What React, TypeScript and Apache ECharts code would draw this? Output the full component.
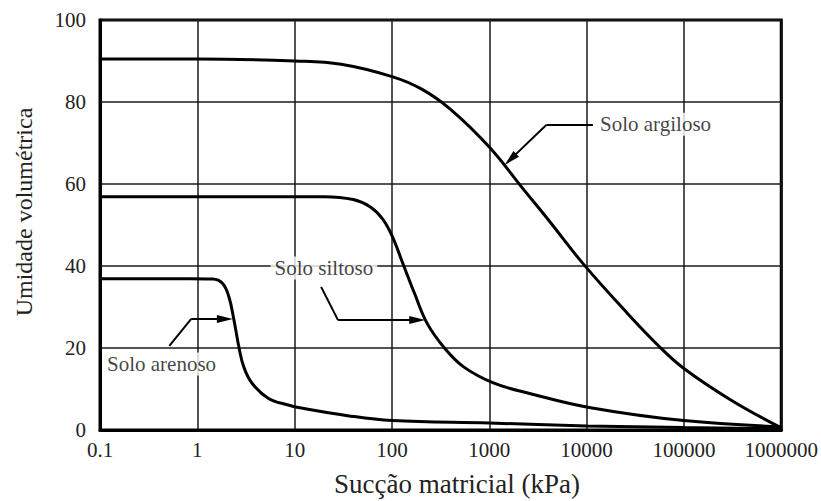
import React, { useEffect, useRef } from "react";
import * as echarts from "echarts";

// ---- Data ----
const clayX = [0.1, 1, 10, 30, 100, 200, 400, 1000, 2225, 4000, 9100, 25000, 55000, 100000, 300000, 1000000];
const clayY = [90.5, 90.5, 90.0, 89.2, 86.2, 83.2, 78.2, 69.0, 58.8, 51.4, 40.7, 29.0, 20.5, 15.0, 7.4, 0.5];

const siltX = [0.1, 1, 10, 20, 40, 60, 80, 100, 130, 170, 230, 341, 545, 1100, 2600, 10600, 100000, 1000000];
const siltY = [56.9, 56.9, 56.9, 56.9, 56.2, 54.4, 51.5, 47.4, 40.5, 33.4, 26.0, 20.2, 15.4, 11.5, 8.9, 5.5, 2.3, 0.8];

const sandX = [0.1, 0.826, 1.43, 1.81, 2.11, 2.38, 2.67, 3.0, 3.65, 5.4, 8.6, 10.9, 35, 100, 1000, 10000, 100000, 1000000];
const sandY = [36.9, 36.9, 36.8, 35.8, 32.5, 26.8, 20.3, 15.4, 11.4, 7.7, 6.1, 5.5, 3.5, 2.3, 1.7, 1.0, 0.6, 0.3];

const seriesNames = ["Solo argiloso", "Solo siltoso", "Solo arenoso"];

// annotation leader lines (data coordinates: [suction, moisture])
const clayLeader = [[11600, 74.4], [3850, 74.4], [1650, 66.0]];
const siltLeader = [[18.7, 34.9], [27.9, 26.8], [182, 26.8]];
const sandLeader = [[0.516, 20.5], [0.866, 27.1], [1.92, 27.1]];

// annotation label anchors (left edge, vertical middle)
const labelX = [12500, 5.66, 0.1073];
const labelY = [74.6, 39.5, 16.1];

const yTicks = { min: 0, max: 100, interval: 20 };
const xRange = { min: 0.1, max: 1000000 };

const xTitle = "Sucção matricial (kPa)";
const yTitle = "Umidade volumétrica";

const FONT = "Liberation Serif";

function pairs(xs: number[], ys: number[]) {
  return xs.map((x, i) => [x, ys[i]]);
}

function leaderMarkLine(pts: number[][]) {
  return {
    silent: true,
    symbol: ["none", "none"],
    label: { show: false },
    lineStyle: { color: "#000", width: 2, type: "solid" },
    emphasis: { disabled: true },
    data: [
      [
        { coord: pts[0], symbol: "none" },
        { coord: pts[1], symbol: "none" },
      ],
      [
        { coord: pts[1], symbol: "none" },
        { coord: pts[2], symbol: "triangle", symbolSize: [8, 16] },
      ],
    ],
  };
}

export default function App() {
  const ref = useRef<HTMLDivElement>(null);
  useEffect(() => {
    const chart = echarts.init(ref.current!, null, { renderer: "svg" });
    const curveStyle = {
      type: "line",
      showSymbol: false,
      symbol: "none",
      smooth: 0.4,
      lineStyle: { color: "#000", width: 3 },
      itemStyle: { color: "#000" },
      silent: true,
      z: 3,
    };
    const leaders = [clayLeader, siltLeader, sandLeader];
    const curves = [pairs(clayX, clayY), pairs(siltX, siltY), pairs(sandX, sandY)];
    const option: any = {
      animation: false,
      backgroundColor: "#fff",
      textStyle: { fontFamily: FONT },
      grid: {
        left: 100,
        right: 34,
        top: 20,
        bottom: 71,
        show: true,
        borderColor: "#000",
        borderWidth: 3,
        backgroundColor: "transparent",
      },
      xAxis: {
        type: "log",
        logBase: 10,
        min: xRange.min,
        max: xRange.max,
        axisLine: { show: true, lineStyle: { color: "#000", width: 3 } },
        axisTick: { show: false },
        splitLine: { show: true, lineStyle: { color: "#1a1a1a", width: 1.5 } },
        minorSplitLine: { show: false },
        axisLabel: {
          color: "#222",
          fontFamily: FONT,
          fontSize: 21,
          margin: 9,
          formatter: (v: number) => (v < 1 ? String(+v.toFixed(1)) : String(Math.round(v))),
        },
      },
      yAxis: {
        type: "value",
        min: yTicks.min,
        max: yTicks.max,
        interval: yTicks.interval,
        axisLine: { show: true, lineStyle: { color: "#000", width: 3 } },
        axisTick: { show: false },
        splitLine: { show: true, lineStyle: { color: "#1a1a1a", width: 1.5 } },
        axisLabel: { color: "#222", fontFamily: FONT, fontSize: 21, margin: 14 },
      },
      graphic: [
        {
          type: "text",
          x: 457,
          y: 484,
          style: {
            text: xTitle,
            fontFamily: FONT,
            fontSize: 27,
            fill: "#222",
            align: "center",
            verticalAlign: "middle",
          },
        },
        {
          type: "text",
          x: 24,
          y: 212,
          rotation: Math.PI / 2,
          style: {
            text: yTitle,
            fontFamily: FONT,
            fontSize: 24,
            fill: "#222",
            align: "center",
            verticalAlign: "middle",
          },
        },
      ],
      series: [
        ...curves.map((data, i) => ({
          ...curveStyle,
          name: seriesNames[i],
          data,
          markLine: leaderMarkLine(leaders[i]),
        })),
        {
          type: "scatter",
          silent: true,
          symbolSize: 0,
          z: 5,
          data: labelX.map((x, i) => ({ value: [x, labelY[i]], name: seriesNames[i] })),
          label: {
            show: true,
            position: "right",
            distance: 0,
            formatter: (p: any) => p.name,
            fontFamily: FONT,
            fontSize: 21,
            color: "#111",
            backgroundColor: "#fff",
            padding: [1, 4, 1, 4],
          },
        },
      ],
    };
    chart.setOption(option);
    return () => chart.dispose();
  }, []);
  return (
    <div
      ref={ref}
      style={{ position: "fixed", left: 0, top: 0, width: 821, height: 501, background: "#fff" }}
    />
  );
}
